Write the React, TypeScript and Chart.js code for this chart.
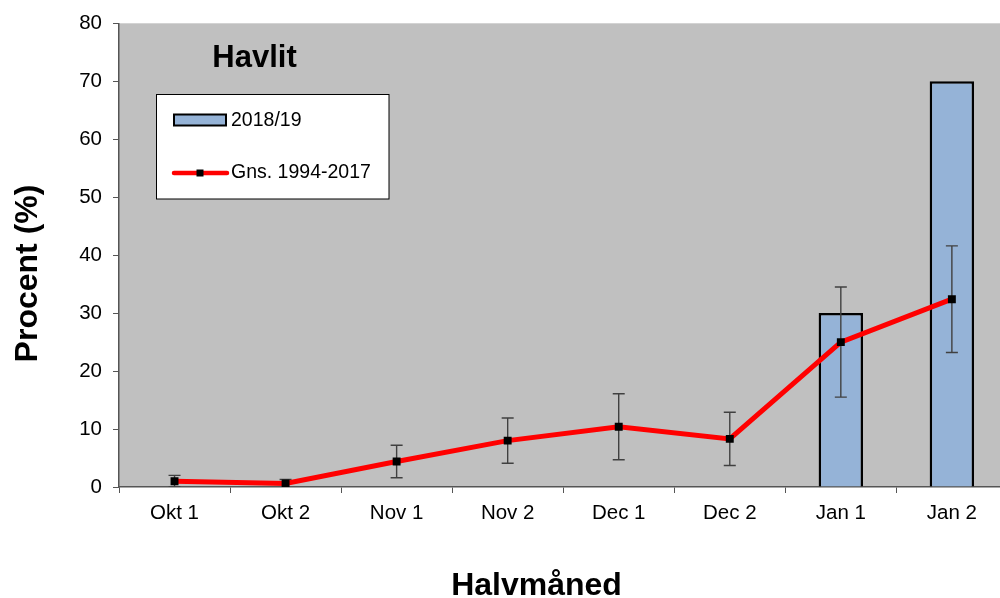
import React, { useEffect, useRef } from "react";
import { Chart, registerables } from "chart.js";

Chart.register(...registerables);

const categories = ["Okt 1", "Okt 2", "Nov 1", "Nov 2", "Dec 1", "Dec 2", "Jan 1", "Jan 2"];
const season2018: (number | null)[] = [null, null, null, null, null, null, 30, 70];
const mean1994_2017 = [1.0, 0.6, 4.4, 8.0, 10.4, 8.3, 25.0, 32.4];
const meanError = [1.0, 0.7, 2.8, 3.9, 5.7, 4.6, 9.5, 9.2];
const yTicks = [0, 10, 20, 30, 40, 50, 60, 70, 80];

const FONT = "'Liberation Sans', Arial, sans-serif";

const decorPlugin = {
  id: "decor",
  beforeDraw(chart: any) {
    const { ctx, chartArea } = chart;
    ctx.save();
    ctx.fillStyle = "#C0C0C0";
    ctx.fillRect(chartArea.left, chartArea.top, chartArea.right - chartArea.left, chartArea.bottom - chartArea.top);
    ctx.restore();
  },
  afterDatasetDraw(chart: any, args: any) {
    if (args.index !== 0) return;
    const { ctx, chartArea } = chart;
    const x = chart.scales.x;
    const y = chart.scales.y;
    ctx.save();
    ctx.beginPath();
    ctx.rect(chartArea.left, chartArea.top, chartArea.right - chartArea.left, chartArea.bottom - chartArea.top);
    ctx.clip();
    ctx.strokeStyle = "#404040";
    ctx.lineWidth = 1.4;
    mean1994_2017.forEach((m, i) => {
      const cx = x.getPixelForValue(i);
      const top = y.getPixelForValue(m + meanError[i]);
      const bot = y.getPixelForValue(m - meanError[i]);
      ctx.beginPath();
      ctx.moveTo(cx, top);
      ctx.lineTo(cx, bot);
      ctx.moveTo(cx - 6, top);
      ctx.lineTo(cx + 6, top);
      ctx.moveTo(cx - 6, bot);
      ctx.lineTo(cx + 6, bot);
      ctx.stroke();
    });
    ctx.restore();
  },
  afterDraw(chart: any) {
    const { ctx } = chart;
    ctx.save();
    ctx.fillStyle = "#000";
    ctx.font = `bold 31px ${FONT}`;
    ctx.textAlign = "center";
    ctx.textBaseline = "alphabetic";
    ctx.fillText("Havlit", 254.5, 67);

    ctx.font = `bold 32px ${FONT}`;
    ctx.fillText("Halvmåned", 536.5, 595);
    ctx.save();
    ctx.translate(28, 273.5);
    ctx.rotate(-Math.PI / 2);
    ctx.textBaseline = "middle";
    ctx.fillText("Procent (%)", 0, 0);
    ctx.restore();

    ctx.fillStyle = "#FFFFFF";
    ctx.fillRect(156, 94, 233, 105);
    ctx.strokeStyle = "#000";
    ctx.lineWidth = 1;
    ctx.strokeRect(156.5, 94.5, 232.5, 104.5);

    ctx.fillStyle = "#95B3D7";
    ctx.fillRect(174, 114.5, 52, 11);
    ctx.lineWidth = 2;
    ctx.strokeRect(174, 114.5, 52, 11);

    ctx.strokeStyle = "#FF0000";
    ctx.lineWidth = 4.5;
    ctx.lineCap = "round";
    ctx.beginPath();
    ctx.moveTo(174, 173);
    ctx.lineTo(227, 173);
    ctx.stroke();
    ctx.fillStyle = "#000";
    ctx.fillRect(196.5, 169.5, 7, 7);

    ctx.font = `19.5px ${FONT}`;
    ctx.textAlign = "left";
    ctx.textBaseline = "middle";
    ctx.fillStyle = "#000";
    ctx.fillText("2018/19", 231, 120.5);
    ctx.fillText("Gns. 1994-2017", 231, 172.5);
    ctx.restore();
  },
};

export default function App() {
  const ref = useRef<HTMLCanvasElement | null>(null);
  useEffect(() => {
    document.body.style.margin = "0";
    if (!ref.current) return;
    const chart = new Chart(ref.current, {
      type: "bar",
      data: {
        labels: categories,
        datasets: [
          {
            type: "bar",
            label: "2018/19",
            data: season2018,
            backgroundColor: "#95B3D7",
            borderColor: "#000000",
            borderWidth: 2.5,
            borderSkipped: "bottom",
            barPercentage: 0.4,
            categoryPercentage: 1,
            order: 1,
          },
          {
            type: "line",
            label: "Gns. 1994-2017",
            data: mean1994_2017,
            borderColor: "#FF0000",
            borderWidth: 5,
            pointStyle: "rect",
            pointRadius: 5.6,
            pointBackgroundColor: "#000000",
            pointBorderColor: "#000000",
            pointBorderWidth: 0,
            tension: 0,
            order: 0,
          },
        ] as any,
      },
      options: {
        animation: false,
        responsive: false,
        maintainAspectRatio: false,
        layout: { padding: { top: 23, right: 0, left: 0, bottom: 0 } },
        plugins: {
          legend: { display: false },
          title: { display: false },
          tooltip: { enabled: false },
        },
        scales: {
          x: {
            type: "category",
            offset: true,
            grid: {
              offset: true,
              drawOnChartArea: false,
              drawTicks: true,
              tickLength: 6,
              color: "#555555",
            },
            border: { display: true, color: "#555555", width: 1.5 },
            ticks: {
              color: "#000000",
              font: { family: FONT, size: 20.5 },
              padding: 8,
              maxRotation: 0,
              autoSkip: false,
            },
            afterFit(scale: any) {
              scale.height = 111;
            },
          },
          y: {
            min: 0,
            max: 80,
            afterBuildTicks(scale: any) {
              scale.ticks = yTicks.map((v) => ({ value: v }));
            },
            grid: {
              drawOnChartArea: false,
              drawTicks: true,
              tickLength: 6,
              color: "#555555",
            },
            border: { display: true, color: "#555555", width: 1.5 },
            ticks: {
              color: "#000000",
              font: { family: FONT, size: 20.5 },
              padding: 11,
            },
            afterFit(scale: any) {
              scale.width = 119;
            },
          },
        },
      },
      plugins: [decorPlugin],
    });
    return () => chart.destroy();
  }, []);
  return (
    <div style={{ position: "absolute", left: 0, top: 0, width: 1000, height: 598, overflow: "hidden" }}>
      <canvas ref={ref} width={1013} height={598} style={{ width: 1013, height: 598, display: "block" }} />
    </div>
  );
}
